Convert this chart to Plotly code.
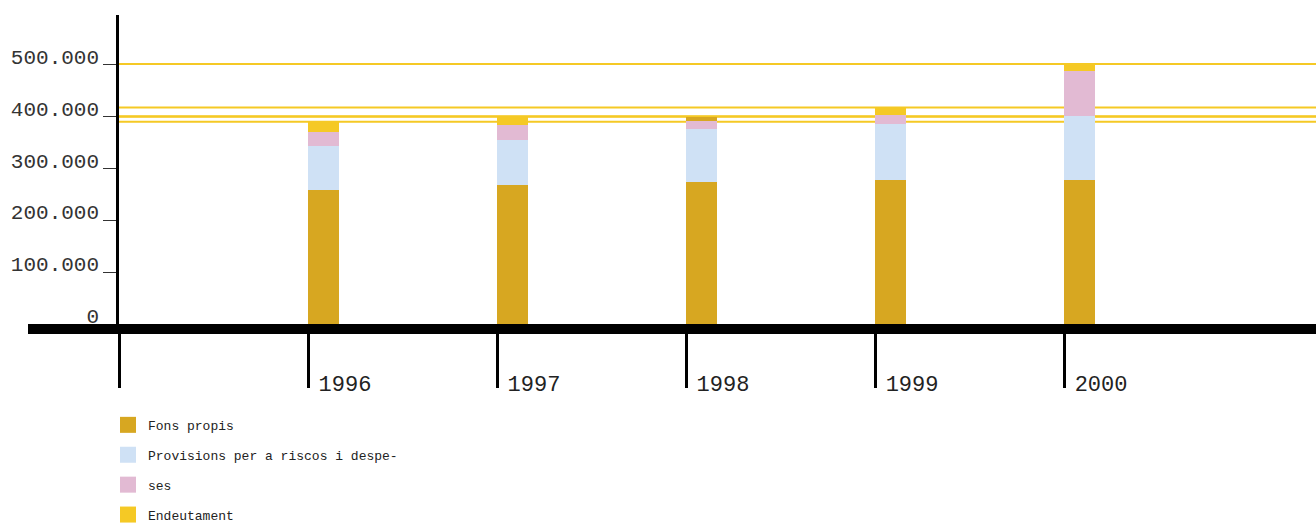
import plotly.graph_objects as go

years = ["1996", "1997", "1998", "1999", "2000"]
fons_propis = [258000, 268000, 274000, 277000, 277000]
provisions = [85000, 87000, 101000, 108000, 124000]
ses = [27000, 29000, 15500, 17000, 86000]
endeutament = [19500, 16000, 8500, 15000, 13500]
y_tick_vals = [0, 100000, 200000, 300000, 400000, 500000]
y_tick_text = ["0", "100.000", "200.000", "300.000", "400.000", "500.000"]

series_names = ["Fons propis", "Provisions per a riscos i despe-", "ses", "Endeutament"]
series_vals = [fons_propis, provisions, ses, endeutament]
colors = ["#D7A721", "#CFE1F5", "#E2BAD3", "#F5C925"]
end_colors = ["#F5C925", "#F5C925", "#D7A721", "#F5C925", "#F5C925"]

pos = list(range(1, len(years) + 1))

fig = go.Figure()
for i, (name, vals, col) in enumerate(zip(series_names, series_vals, colors)):
    mc = end_colors if name == "Endeutament" else col
    fig.add_trace(go.Bar(
        x=pos, y=vals, name=name, marker=dict(color=mc, line=dict(width=0)),
        width=0.164, offset=0, showlegend=False, legendgroup=f"g{i}",
    ))
    fig.add_trace(go.Scatter(
        x=[None], y=[None], mode="markers", name=name, legendgroup=f"g{i}",
        marker=dict(symbol="square", size=16, color=col),
    ))

totals = [sum(v) for v in zip(*series_vals)]
for t in totals:
    fig.add_shape(type="line", xref="paper", yref="y", x0=0, x1=1, y0=t, y1=t,
                  line=dict(color="#F5C925", width=2), layer="below")

# thick baseline
fig.add_shape(type="line", xref="paper", yref="paper", x0=(28 - 119) / 1197, x1=1,
              y0=-5 / 309, y1=-5 / 309, line=dict(color="black", width=10), layer="above")

fig.update_layout(
    width=1316, height=524,
    margin=dict(l=119, r=0, t=15, b=200, autoexpand=False),
    plot_bgcolor="white", paper_bgcolor="white",
    barmode="stack",
    showlegend=True,
    legend=dict(x=-11 / 1197, y=-0.278, xanchor="left", yanchor="top",
                traceorder="grouped", tracegroupgap=10,
                font=dict(family="Liberation Mono", size=13, color="#222")),
    xaxis=dict(range=[0, 6.333], tickvals=[0] + pos, ticktext=[""] + years,
               showgrid=False, zeroline=False, showline=False,
               ticks="outside", ticklen=63, tickwidth=2.5, tickcolor="black",
               ticklabelshift=37, ticklabelstandoff=-23,
               tickfont=dict(family="Liberation Mono", size=22, color="#222")),
    yaxis=dict(range=[0, 595000], tickvals=y_tick_vals, ticktext=y_tick_text,
               showgrid=False, zeroline=False, showline=True, linecolor="black", linewidth=2.5,
               ticks="outside", ticklen=13, tickwidth=1, tickcolor="#333",
               ticklabelshift=-8,
               tickfont=dict(family="Liberation Mono", size=21, color="#333")),
)

fig.write_html("out.html", config={"displayModeBar": False},
               post_script="document.body.style.margin='0';")
